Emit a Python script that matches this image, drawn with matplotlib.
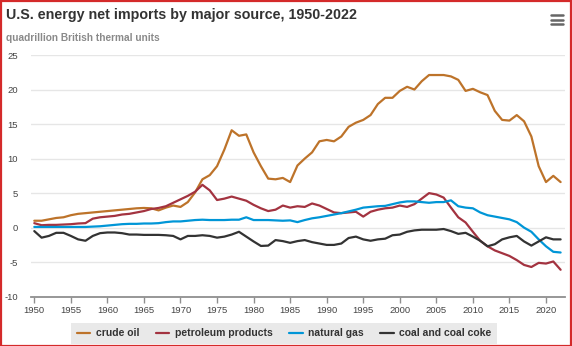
import matplotlib
matplotlib.use("Agg")
import matplotlib.pyplot as plt
from matplotlib.lines import Line2D
from matplotlib.patches import Rectangle

plt.rcParams['font.family'] = ['Liberation Sans', 'DejaVu Sans']

years = list(range(1950, 2023))

crude_oil = [
    1.0, 1.0, 1.2, 1.4, 1.5, 1.8, 2.0, 2.1, 2.2, 2.3,
    2.4, 2.5, 2.6, 2.7, 2.8, 2.85, 2.8, 2.5, 2.9, 3.2,
    3.0, 3.7, 5.1, 7.0, 7.6, 8.9, 11.3, 14.1, 13.3, 13.5,
    10.9, 8.9, 7.1, 7.0, 7.2, 6.6, 9.0, 10.0, 10.9, 12.5,
    12.7, 12.5, 13.2, 14.6, 15.2, 15.6, 16.3, 17.9, 18.8, 18.8,
    19.8, 20.4, 20.0, 21.2, 22.1, 22.1, 22.1, 21.9, 21.4, 19.8,
    20.1, 19.6, 19.2, 16.9, 15.6, 15.5, 16.3, 15.4, 13.2, 8.9,
    6.6, 7.5, 6.6,
]

petroleum_products = [
    0.65, 0.35, 0.4, 0.4, 0.45, 0.5, 0.6, 0.65, 1.3, 1.5,
    1.6, 1.7, 1.9, 2.0, 2.2, 2.4, 2.7, 2.85, 3.1, 3.6,
    4.1, 4.6, 5.2, 6.2, 5.4, 4.0, 4.2, 4.5, 4.2, 3.9,
    3.3, 2.8, 2.4, 2.6, 3.2, 2.9, 3.1, 3.0, 3.5, 3.2,
    2.7, 2.2, 2.1, 2.2, 2.3, 1.6, 2.3, 2.6, 2.8, 2.9,
    3.2, 3.0, 3.4, 4.2, 5.0, 4.8, 4.35, 2.9, 1.5, 0.75,
    -0.6, -1.9, -2.7, -3.3, -3.7, -4.1, -4.7, -5.4, -5.7, -5.1,
    -5.2, -4.9, -6.1,
]

natural_gas = [
    0.1, 0.1, 0.1, 0.1, 0.1, 0.1, 0.1, 0.1, 0.15, 0.2,
    0.3, 0.4, 0.5, 0.55, 0.55, 0.6, 0.6, 0.65, 0.8, 0.9,
    0.9, 1.0, 1.1, 1.15, 1.1, 1.1, 1.1, 1.15, 1.15, 1.5,
    1.1, 1.1, 1.1, 1.05, 1.0, 1.05, 0.8, 1.1, 1.35, 1.5,
    1.7, 1.9, 2.1, 2.35, 2.6, 2.9, 3.0, 3.1, 3.15, 3.4,
    3.65, 3.8, 3.8, 3.7, 3.6, 3.7, 3.7, 3.95, 3.1, 2.9,
    2.8, 2.2, 1.8, 1.6, 1.4, 1.2, 0.8, 0.0, -0.6, -1.7,
    -2.7, -3.5, -3.6,
]

coal_and_coke = [
    -0.5, -1.45, -1.2, -0.75, -0.75, -1.2, -1.7, -1.9, -1.2, -0.8,
    -0.7, -0.7, -0.8, -1.0, -1.0, -1.05, -1.05, -1.05, -1.1, -1.2,
    -1.7, -1.2, -1.2, -1.1, -1.2, -1.45, -1.3, -1.0, -0.6, -1.3,
    -2.0, -2.65, -2.6, -1.8, -1.95, -2.2, -1.95, -1.8, -2.1, -2.3,
    -2.5, -2.5, -2.3, -1.5, -1.3, -1.7, -1.9, -1.7, -1.6, -1.1,
    -1.0, -0.6, -0.4, -0.3, -0.3, -0.3, -0.2, -0.5, -0.9, -0.75,
    -1.3, -1.9, -2.7, -2.4, -1.7, -1.4, -1.2, -2.0, -2.6, -2.0,
    -1.4, -1.7, -1.7,
]

series_names = ["crude oil", "petroleum products", "natural gas", "coal and coal coke"]
series_colors = ["#BD732A", "#A33340", "#0096D7", "#333333"]
series_values = [crude_oil, petroleum_products, natural_gas, coal_and_coke]

x_ticks = list(range(1950, 2021, 5))
y_ticks = list(range(-10, 26, 5))

W, H = 572, 346
fig = plt.figure(figsize=(W / 100, H / 100), dpi=100)
fig.patch.set_facecolor("white")

# plot area in pixel coordinates
left, right, top, bottom = 31, 565, 55, 296.7
ax = fig.add_axes([left / W, 1 - bottom / H, (right - left) / W, (bottom - top) / H])

for name, color, vals in zip(series_names, series_colors, series_values):
    ax.plot(years, vals, color=color, lw=1.6, label=name,
            solid_joinstyle="round", solid_capstyle="round", zorder=3)

ax.set_xlim(1949.55, 2022.6)
ax.set_ylim(-10, 25)
ax.set_xticks(x_ticks)
ax.set_yticks(y_ticks)
ax.set_yticklabels([str(v) for v in y_ticks])
ax.grid(axis="y", color="#e6e6e6", lw=1.0, zorder=0)
ax.set_axisbelow(True)

for s in ["top", "right", "left"]:
    ax.spines[s].set_visible(False)
ax.spines["bottom"].set_color("#8f8f8f")
ax.spines["bottom"].set_linewidth(1.3)
ax.spines["bottom"].set_zorder(4)

ax.tick_params(axis="x", length=4, width=1, color="#8f8f8f", pad=3,
               labelsize=6.8, labelcolor="#444444")
ax.tick_params(axis="y", length=0, pad=9.5, labelsize=6.8, labelcolor="#444444")

# titles
fig.text(6 / W, 1 - 15 / H, "U.S. energy net imports by major source, 1950-2022",
         fontsize=10.3, fontweight="bold", color="#333333", ha="left", va="center")
fig.text(6 / W, 1 - 38 / H, "quadrillion British thermal units",
         fontsize=7.3, fontweight="bold", color="#8a8a8a", ha="left", va="center")

# menu icon
for yy in (14.5, 19.5, 24.0):
    fig.add_artist(Line2D([550.5 / W, 562.5 / W], [1 - yy / H, 1 - yy / H],
                          color="#666666", lw=1.8, solid_capstyle="round",
                          transform=fig.transFigure))

# legend
handles, labels = ax.get_legend_handles_labels()
leg = fig.legend(handles, labels, loc="center", bbox_to_anchor=(284 / W, 1 - 333.5 / H),
                 ncol=4, frameon=True, fancybox=False, facecolor="#e9e9e9",
                 edgecolor="none", framealpha=1.0,
                 prop={"size": 7.5, "weight": "bold"}, labelcolor="#333333",
                 handlelength=1.3, handletextpad=0.5, columnspacing=1.6,
                 borderpad=0.55)

# outer frame
fig.add_artist(Rectangle((0.5 / W, 0.5 / H), (W - 1.5) / W, (H - 1.5) / H,
                         transform=fig.transFigure, fill=False,
                         edgecolor="#d42a2a", lw=1.6))

fig.savefig("out.png", dpi=100, facecolor="white")
